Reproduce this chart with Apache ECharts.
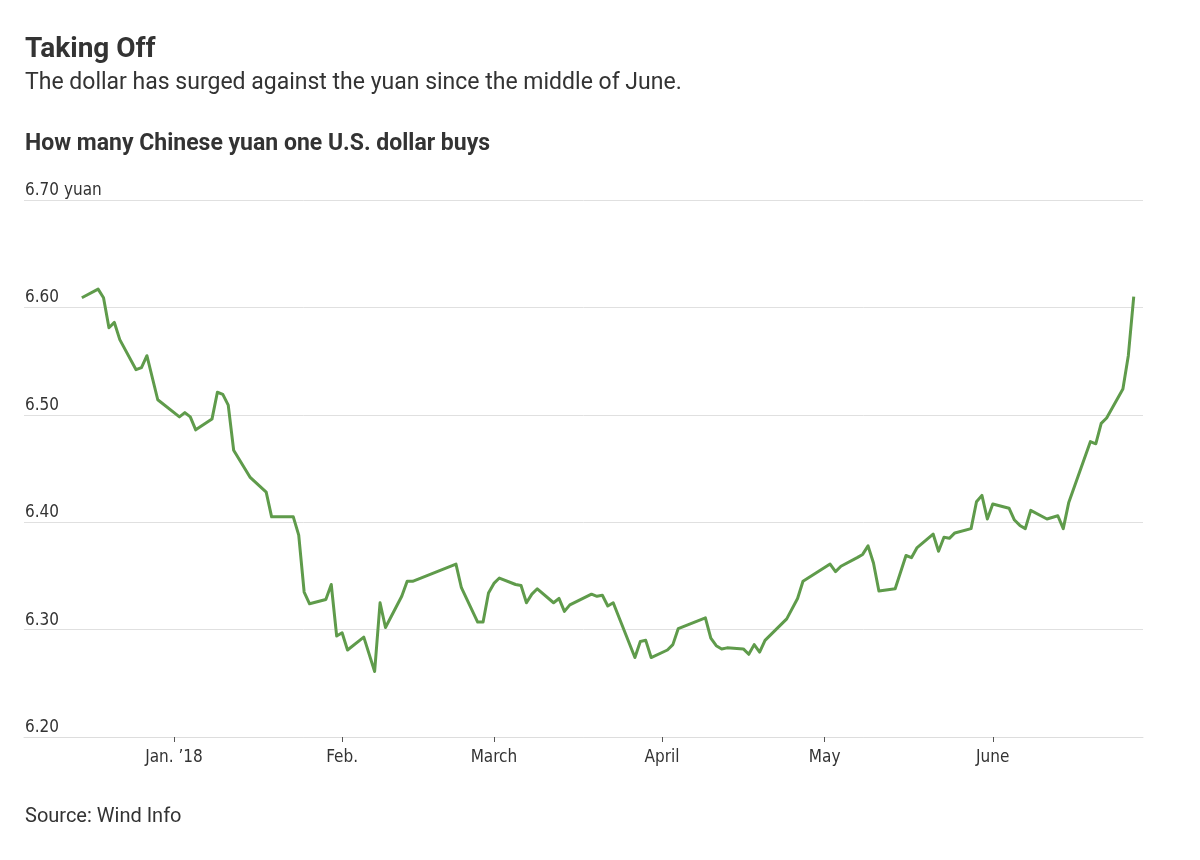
<!DOCTYPE html>
<html>
<head>
<meta charset="utf-8">
<script src="https://cdn.jsdelivr.net/npm/echarts@6/dist/echarts.min.js"></script>
<style>
html,body{margin:0;padding:0;background:#fff;}
#chart{width:1200px;height:860px;}
</style>
</head>
<body>
<div id="chart"></div>
<script>
const dates = [
'2017-12-15','2017-12-18','2017-12-19','2017-12-20','2017-12-21','2017-12-22','2017-12-25','2017-12-26','2017-12-27','2017-12-29',
'2018-01-02','2018-01-03','2018-01-04','2018-01-05','2018-01-08','2018-01-09','2018-01-10','2018-01-11','2018-01-12','2018-01-15',
'2018-01-18','2018-01-19','2018-01-23','2018-01-24','2018-01-25','2018-01-26','2018-01-29','2018-01-30','2018-01-31','2018-02-01',
'2018-02-02','2018-02-05','2018-02-07','2018-02-08','2018-02-09','2018-02-12','2018-02-13','2018-02-14','2018-02-22','2018-02-23',
'2018-02-26','2018-02-27','2018-02-28','2018-03-01','2018-03-02','2018-03-05','2018-03-06','2018-03-07','2018-03-08','2018-03-09',
'2018-03-12','2018-03-13','2018-03-14','2018-03-15','2018-03-19','2018-03-20','2018-03-21','2018-03-22','2018-03-23','2018-03-27',
'2018-03-28','2018-03-29','2018-03-30','2018-04-02','2018-04-03','2018-04-04','2018-04-09','2018-04-10','2018-04-11','2018-04-12',
'2018-04-13','2018-04-16','2018-04-17','2018-04-18','2018-04-19','2018-04-20','2018-04-24','2018-04-26','2018-04-27','2018-05-02',
'2018-05-03','2018-05-04','2018-05-07','2018-05-08','2018-05-09','2018-05-10','2018-05-11','2018-05-14','2018-05-16','2018-05-17',
'2018-05-18','2018-05-21','2018-05-22','2018-05-23','2018-05-24','2018-05-25','2018-05-28','2018-05-29','2018-05-30','2018-05-31',
'2018-06-01','2018-06-04','2018-06-05','2018-06-06','2018-06-07','2018-06-08','2018-06-11','2018-06-13','2018-06-14','2018-06-15',
'2018-06-19','2018-06-20','2018-06-21','2018-06-22','2018-06-25','2018-06-26','2018-06-27'
];
const rates = [
6.609,6.617,6.609,6.581,6.586,6.570,6.542,6.544,6.555,6.514,
6.498,6.502,6.498,6.486,6.496,6.521,6.519,6.509,6.467,6.442,
6.428,6.405,6.405,6.388,6.335,6.324,6.328,6.342,6.294,6.297,
6.281,6.293,6.261,6.325,6.302,6.331,6.345,6.345,6.361,6.339,
6.307,6.307,6.334,6.343,6.348,6.342,6.341,6.325,6.333,6.338,
6.325,6.329,6.317,6.323,6.333,6.331,6.332,6.322,6.325,6.274,
6.289,6.290,6.274,6.281,6.286,6.301,6.311,6.292,6.285,6.282,
6.283,6.282,6.277,6.286,6.279,6.290,6.310,6.329,6.345,6.361,
6.354,6.359,6.367,6.370,6.378,6.362,6.336,6.338,6.369,6.367,
6.376,6.389,6.373,6.386,6.385,6.390,6.394,6.419,6.425,6.403,
6.417,6.413,6.402,6.397,6.394,6.411,6.403,6.406,6.394,6.418,
6.475,6.473,6.492,6.497,6.524,6.555,6.610
];
const monthStarts = ['2018-01-01','2018-02-01','2018-03-01','2018-04-01','2018-05-01','2018-06-01'];
const monthLabels = ["Jan. \u201918","Feb.","March","April","May","June"];
const yTicks = [6.20,6.30,6.40,6.50,6.60,6.70];

function toTs(s){ const p=s.split('-').map(Number); return new Date(p[0],p[1]-1,p[2]).getTime(); }
const monthTs = monthStarts.map(toTs);
const seriesData = dates.map((d,i)=>[toTs(d), rates[i]]);

const FONT = '"Liberation Sans Narrow","DejaVu Sans Condensed","Roboto",sans-serif';
const chart = echarts.init(document.getElementById('chart'), null, {renderer:'canvas'});
chart.setOption({
  animation:false,
  backgroundColor:'#fff',
  title:[
    {text:'Taking Off', left:25, top:36, padding:0, textStyle:{fontFamily:'Roboto', fontWeight:'bold', fontSize:28, color:'#333'}},
    {text:'The dollar has surged against the yuan since the middle of June.', left:25, top:72, padding:0, textStyle:{fontFamily:'Roboto', fontWeight:'normal', fontSize:23, color:'#333'}},
    {text:'How many Chinese yuan one U.S. dollar buys', left:25, top:133, padding:0, textStyle:{fontFamily:'Roboto', fontWeight:'bold', fontSize:23, color:'#333'}},
    {text:'Source: Wind Info', left:25, top:807, padding:0, textStyle:{fontFamily:'Roboto', fontWeight:'normal', fontSize:20, color:'#333'}}
  ],
  grid:{left:24, right:57, top:200, bottom:123, containLabel:false},
  xAxis:{
    type:'value',
    min:new Date(2017,11,4,8).getTime(),
    max:new Date(2018,5,28,17).getTime(),
    axisLine:{show:true, lineStyle:{color:'#dddddd', width:1}},
    axisTick:{show:true, customValues:monthTs, length:5, lineStyle:{color:'#555', width:1}},
    axisLabel:{show:true, customValues:monthTs, margin:12, color:'#333', fontSize:17, fontFamily:FONT,
      formatter:function(v){ const i=monthTs.indexOf(v); return i>=0?monthLabels[i]:''; }},
    splitLine:{show:false}
  },
  yAxis:{
    type:'value', min:6.2, max:6.7, interval:0.1,
    axisLine:{show:false}, axisTick:{show:false},
    axisLabel:{inside:true, verticalAlign:'bottom', align:'left', margin:0, padding:[0,0,1,1], color:'#333', fontSize:17, fontFamily:FONT,
      formatter:function(v){ const s=v.toFixed(2); return Math.abs(v-6.7)<1e-6 ? s+' yuan' : s; }},
    splitLine:{show:true, lineStyle:{color:'#e0e0e0', width:1}}
  },
  series:[{
    type:'line', data:seriesData, showSymbol:false, symbol:'none',
    lineStyle:{color:'#5f9b4b', width:3, join:'round'}, z:3
  }]
});
</script>
</body>
</html>
